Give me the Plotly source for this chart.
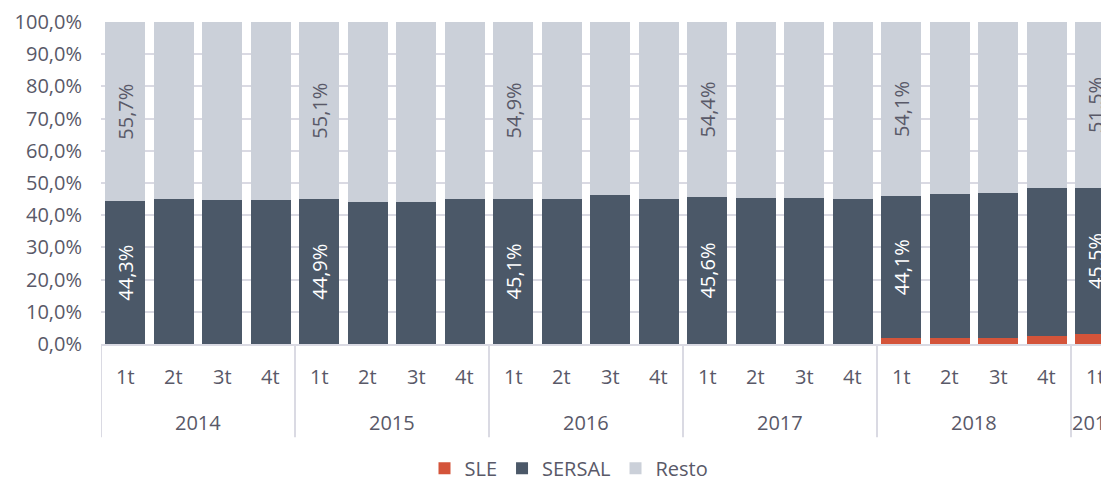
import plotly.graph_objects as go

years = ["2014"] * 4 + ["2015"] * 4 + ["2016"] * 4 + ["2017"] * 4 + ["2018"] * 4 + ["2019"]
quarters = ["1t", "2t", "3t", "4t"] * 5 + ["1t"]

sle = [0, 0, 0, 0,  0, 0, 0, 0,  0, 0, 0, 0,  0, 0, 0, 0,  1.8, 2.0, 2.0, 2.6,  3.0]
sersal = [44.3, 45.0, 44.6, 44.6,
          44.9, 44.2, 44.1, 45.0,
          45.1, 45.0, 46.2, 45.0,
          45.6, 45.4, 45.4, 45.0,
          44.1, 44.5, 44.9, 45.9,
          45.5]
resto = [55.7, 55.0, 55.4, 55.4,
         55.1, 55.8, 55.9, 55.0,
         54.9, 55.0, 53.8, 55.0,
         54.4, 54.6, 54.6, 55.0,
         54.1, 53.5, 53.1, 51.5,
         51.5]

yticks = [0, 10, 20, 30, 40, 50, 60, 70, 80, 90, 100]

TXT = "#595968"
GRID = "#DADAE3"
FONT = "Open Sans"
FS = 20

x = list(range(len(years)))


def fmt(v):
    return f"{v:.1f}%".replace(".", ",")


def lab(vals):
    return [(fmt(v) if q == "1t" else "") for v, q in zip(vals, quarters)]


fig = go.Figure()
fig.add_trace(go.Bar(x=x, y=sle, name="SLE", marker=dict(color="#D4543A", line=dict(width=0)),
                     hoverinfo="skip"))
fig.add_trace(go.Bar(x=x, y=sersal, name="SERSAL", marker=dict(color="#4B5868", line=dict(width=0)),
                     text=lab(sersal), textposition="inside", textangle=-90,
                     insidetextanchor="middle", textfont=dict(color="white", size=FS, family=FONT),
                     hoverinfo="skip"))
fig.add_trace(go.Bar(x=x, y=resto, name="Resto", marker=dict(color="#CBD0D9", line=dict(width=0)),
                     text=lab(resto), textposition="inside", textangle=-90,
                     insidetextanchor="middle", textfont=dict(color=TXT, size=FS, family=FONT),
                     hoverinfo="skip"))

# page body has an 8px margin: work in figure coordinates = screen - 8
OFF = 8
W, H = 1109 - OFF, 483 - OFF
left, top, bottom_px = 101 - OFF, 21.7 - OFF, 344.5 - OFF
plot_h = bottom_px - top
cat_w = 48.5
xmax = -0.5 + (W - left) / cat_w

ann = []
y_q = (bottom_px - (377 - OFF)) / plot_h
y_y = (bottom_px - (423 - OFF)) / plot_h
for i, q in enumerate(quarters):
    ann.append(dict(x=i, y=y_q, xref="x", yref="paper", text=q, showarrow=False,
                    font=dict(color=TXT, size=FS, family=FONT), yanchor="middle"))
shapes = []
groups = []
for i, yv in enumerate(years):
    if not groups or groups[-1][0] != yv:
        groups.append([yv, i, i])
    else:
        groups[-1][2] = i
y_div = (bottom_px - (438 - OFF)) / plot_h
for yv, a, b in groups:
    ann.append(dict(x=(a + b) / 2, y=y_y, xref="x", yref="paper", text=yv, showarrow=False,
                    font=dict(color=TXT, size=FS, family=FONT), yanchor="middle"))
    shapes.append(dict(type="line", xref="x", yref="paper", x0=a - 0.5, x1=a - 0.5, y0=0, y1=y_div,
                       line=dict(color=GRID, width=2)))

legend_x = ((569 - OFF) - left) / (W - left)
legend_y = (bottom_px - (469 - OFF)) / plot_h

fig.update_layout(
    width=W, height=H,
    margin=dict(l=left, r=0, t=top, b=H - bottom_px, pad=0, autoexpand=False),
    barmode="stack", bargap=0.175,
    plot_bgcolor="white", paper_bgcolor="white",
    font=dict(family=FONT, size=FS, color=TXT),
    showlegend=True,
    legend=dict(orientation="h", x=legend_x, xanchor="center", y=legend_y,
                yanchor="middle", font=dict(size=FS, color=TXT, family=FONT), traceorder="normal",
                bgcolor="rgba(0,0,0,0)"),
    annotations=ann, shapes=shapes,
)
fig.update_xaxes(range=[-0.5, xmax], showticklabels=False, showgrid=False, zeroline=False,
                 showline=True, linecolor=GRID, linewidth=2, fixedrange=True, automargin=False)
fig.update_yaxes(range=[0, 100], tickmode="array", tickvals=yticks,
                 ticktext=[fmt(v) for v in yticks],
                 showgrid=True, gridcolor=GRID, gridwidth=2, zeroline=False, showline=False,
                 ticks="", ticklabelstandoff=18, automargin=False,
                 tickfont=dict(size=FS, color=TXT, family=FONT))

fig.write_html("out.html", config={"displayModeBar": False})
